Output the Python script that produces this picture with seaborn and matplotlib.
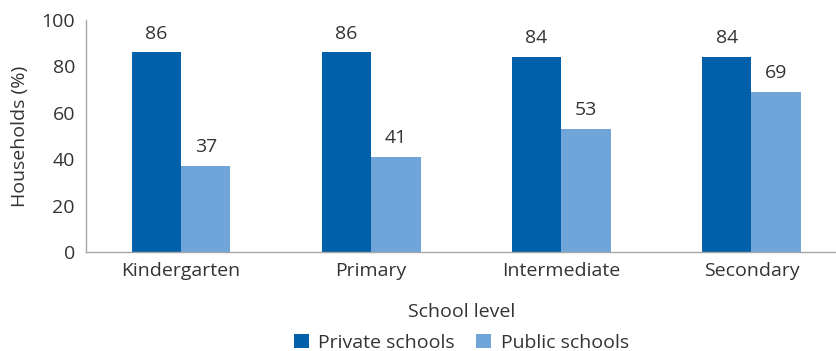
import matplotlib
matplotlib.use("Agg")
import matplotlib.pyplot as plt
import seaborn as sns
import pandas as pd
from matplotlib.ticker import FixedLocator

levels = ["Kindergarten", "Primary", "Intermediate", "Secondary"]
private_schools = [86, 86, 84, 84]
public_schools = [37, 41, 53, 69]
series_names = ["Private schools", "Public schools"]
colors = ["#0060A9", "#6FA5D8"]

df = pd.DataFrame({
    "level": levels * 2,
    "value": private_schools + public_schools,
    "type": [series_names[0]] * 4 + [series_names[1]] * 4,
})

sns.set_style("white")
plt.rcParams["font.family"] = ["Open Sans", "DejaVu Sans"]
text_color = "#333333"
axis_color = "#A6A6A6"
fs = 14

fig = plt.figure(figsize=(8.37, 3.51), dpi=100)
ax = fig.add_axes([86 / 837, 99 / 351, 751 / 837, 232 / 351])

sns.barplot(data=df, x="level", y="value", hue="type", palette=colors,
            width=0.52, saturation=1, linewidth=0, ax=ax, legend=True)

for container in ax.containers:
    ax.bar_label(container, fmt="%d", padding=7, fontsize=fs, color=text_color)

ax.set_ylim(0, 100)
ax.set_xlim(-0.5, 3.45)
ax.set_yticks([0, 20, 40, 60, 80, 100])
ax.tick_params(axis="y", length=5, color=axis_color, labelsize=fs,
               labelcolor=text_color, pad=3, width=1)
ax.tick_params(axis="x", which="major", length=0, labelsize=fs,
               labelcolor=text_color, pad=7)
ax.xaxis.set_minor_locator(FixedLocator([-0.5, 0.5, 1.5, 2.5]))
ax.tick_params(axis="x", which="minor", length=6, color=axis_color, width=1)

for side in ["top", "right"]:
    ax.spines[side].set_visible(False)
for side in ["left", "bottom"]:
    ax.spines[side].set_color(axis_color)
    ax.spines[side].set_linewidth(1)

ax.set_xlabel("School level", fontsize=fs, color=text_color, labelpad=17)
ax.set_ylabel("Households (%)", fontsize=fs, color=text_color, labelpad=9)

ax.legend(loc="center", bbox_to_anchor=(0.5, -0.392), ncol=2,
          frameon=False, fontsize=fs, handlelength=0.75, handleheight=0.75,
          handletextpad=0.5, columnspacing=1.1, labelcolor=text_color,
          borderaxespad=0, borderpad=0)

fig.savefig("out.png", dpi=100)
